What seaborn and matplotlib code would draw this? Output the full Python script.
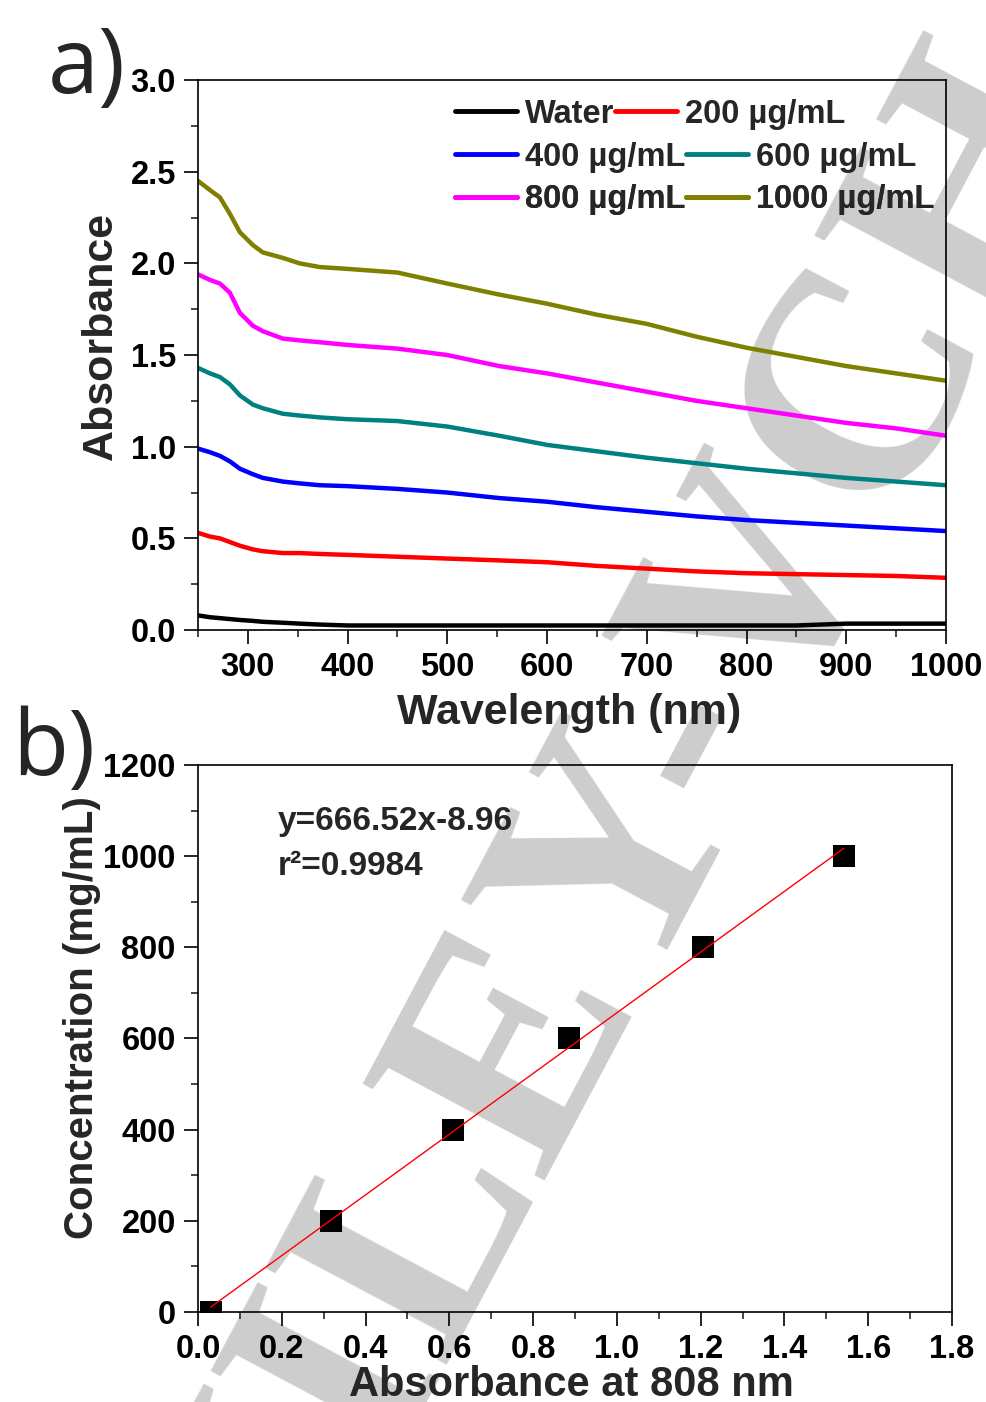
import numpy as np
import pandas as pd
import matplotlib
matplotlib.use("Agg")
import matplotlib.pyplot as plt
import seaborn as sns

# --- panel a: UV-vis-NIR spectra ---
wavelength = [250, 262, 272, 282, 292, 305, 315, 335, 352, 372, 400, 450,
              500, 552, 600, 650, 700, 750, 800, 850, 900, 950, 1000]
abs_water = [0.08, 0.07, 0.065, 0.06, 0.055, 0.05, 0.045, 0.04, 0.035, 0.03, 0.025, 0.025,
             0.025, 0.025, 0.025, 0.025, 0.025, 0.025, 0.025, 0.025, 0.035, 0.035, 0.035]
abs_200 = [0.53, 0.51, 0.50, 0.48, 0.46, 0.44, 0.43, 0.42, 0.42, 0.415, 0.41, 0.40,
           0.39, 0.38, 0.37, 0.35, 0.335, 0.32, 0.31, 0.305, 0.30, 0.295, 0.285]
abs_400 = [0.99, 0.97, 0.95, 0.92, 0.88, 0.85, 0.83, 0.81, 0.80, 0.79, 0.785, 0.77,
           0.75, 0.72, 0.70, 0.67, 0.645, 0.62, 0.60, 0.585, 0.57, 0.555, 0.54]
abs_600 = [1.43, 1.40, 1.38, 1.34, 1.28, 1.23, 1.21, 1.18, 1.17, 1.16, 1.15, 1.14,
           1.11, 1.06, 1.01, 0.975, 0.94, 0.91, 0.88, 0.855, 0.83, 0.81, 0.79]
abs_800 = [1.94, 1.91, 1.89, 1.84, 1.73, 1.66, 1.63, 1.59, 1.58, 1.57, 1.555, 1.535,
           1.50, 1.44, 1.40, 1.35, 1.30, 1.25, 1.21, 1.17, 1.13, 1.10, 1.06]
abs_1000 = [2.45, 2.40, 2.36, 2.27, 2.17, 2.10, 2.06, 2.03, 2.00, 1.98, 1.97, 1.95,
            1.89, 1.83, 1.78, 1.72, 1.67, 1.60, 1.54, 1.49, 1.44, 1.40, 1.36]
series_names = ["Water", "200 \u00b5g/mL", "400 \u00b5g/mL",
                "600 \u00b5g/mL", "800 \u00b5g/mL", "1000 \u00b5g/mL"]
series_colors = ["#000000", "#ff0000", "#0000ff", "#008080", "#ff00ff", "#808000"]

# --- panel b: calibration points ---
abs_808 = [0.03, 0.318, 0.609, 0.886, 1.206, 1.542]
concentration = [0, 200, 400, 600, 800, 1000]
fit_text = "y=666.52x-8.96"
r2_text = "r\u00b2=0.9984"

sns.set_theme(style="ticks")
plt.rcParams["font.family"] = ["Liberation Sans", "DejaVu Sans"]
plt.rcParams["xtick.direction"] = "out"
plt.rcParams["ytick.direction"] = "out"
plt.rcParams["axes.linewidth"] = 1.2

fig = plt.figure(figsize=(9.86, 14.02), dpi=100)
fig.patch.set_facecolor("white")

# watermark behind everything
fig.text(0.615, 0.36, "WILEY-VCH", rotation=62, rotation_mode="anchor",
         ha="center", va="center", fontsize=225, color="#cdcdcd",
         family=["Liberation Serif", "DejaVu Serif"], weight="bold", zorder=-1)

ax_a = fig.add_axes([0.2008, 0.5506, 0.7586, 0.3923])
ax_b = fig.add_axes([0.2008, 0.0642, 0.7647, 0.3902])
for ax in (ax_a, ax_b):
    ax.patch.set_facecolor("none")

# ---------- panel a ----------
spectra = [abs_water, abs_200, abs_400, abs_600, abs_800, abs_1000]
df_a = pd.DataFrame({
    "wavelength": np.tile(wavelength, len(series_names)),
    "absorbance": np.concatenate(spectra),
    "sample": np.repeat(series_names, len(wavelength)),
})
sns.lineplot(data=df_a, x="wavelength", y="absorbance", hue="sample",
             hue_order=series_names, palette=dict(zip(series_names, series_colors)),
             linewidth=3.2, legend=False, ax=ax_a)

ax_a.set_xlim(250, 1000)
ax_a.set_ylim(0, 3.0)
ax_a.set_xticks(range(300, 1001, 100))
ax_a.set_xticks(range(250, 1001, 50), minor=True)
ax_a.set_yticks(np.arange(0, 3.01, 0.5))
ax_a.set_yticks(np.arange(0, 3.01, 0.25), minor=True)
ax_a.set_yticklabels([f"{v:.1f}" for v in np.arange(0, 3.01, 0.5)])
ax_a.set_xlabel("Wavelength (nm)", fontsize=31, fontweight="bold", va="center")
ax_a.set_ylabel("Absorbance", fontsize=31, fontweight="bold", va="center")
ax_a.xaxis.set_label_coords(0.496, -0.151)
ax_a.yaxis.set_label_coords(-0.13, 0.535)

# legend rows laid out like the original (flowing, not column-aligned)
lines = ax_a.get_lines()
row_y = [0.938, 0.860, 0.782]
for i, y in enumerate(row_y):
    leg = ax_a.legend(lines[2 * i:2 * i + 2], series_names[2 * i:2 * i + 2],
                      ncol=2, loc="center left", bbox_to_anchor=(0.3436, y),
                      frameon=False, borderpad=0, borderaxespad=0,
                      handlelength=1.9, handletextpad=0.25, columnspacing=0.0,
                      prop={"size": 23.5, "weight": "bold"})
    for h in leg.get_lines():
        h.set_linewidth(3.5)
    ax_a.add_artist(leg)

# ---------- panel b ----------
df_b = pd.DataFrame({"abs": abs_808, "conc": concentration})
sns.scatterplot(data=df_b, x="abs", y="conc", marker="s", s=270, color="black",
                edgecolor="black", linewidth=0, ax=ax_b, zorder=2)
sns.regplot(data=df_b, x="abs", y="conc", scatter=False, ci=None, truncate=True,
            line_kws={"color": "red", "linewidth": 1.0, "zorder": 3}, ax=ax_b)

ax_b.set_xlim(0, 1.8)
ax_b.set_ylim(0, 1200)
ax_b.set_xticks(np.arange(0, 1.81, 0.2))
ax_b.set_xticklabels([f"{v:.1f}" for v in np.arange(0, 1.81, 0.2)])
ax_b.set_xticks(np.arange(0, 1.81, 0.1), minor=True)
ax_b.set_yticks(range(0, 1201, 200))
ax_b.set_yticks(range(0, 1201, 100), minor=True)
ax_b.set_xlabel("Absorbance at 808 nm", fontsize=30, fontweight="bold", va="center")
ax_b.set_ylabel("Concentration (mg/mL)", fontsize=29, fontweight="bold", va="center")
ax_b.xaxis.set_label_coords(0.495, -0.133)
ax_b.yaxis.set_label_coords(-0.154, 0.539)
ax_b.text(0.106, 0.881, fit_text, transform=ax_b.transAxes, fontsize=24,
          fontweight="bold", va="baseline", ha="left")
ax_b.text(0.106, 0.799, r2_text, transform=ax_b.transAxes, fontsize=24,
          fontweight="bold", va="baseline", ha="left")

for ax in (ax_a, ax_b):
    for side in ("top", "right", "left", "bottom"):
        ax.spines[side].set_visible(True)
        ax.spines[side].set_color("black")
        ax.spines[side].set_linewidth(1.2)
    ax.tick_params(which="major", length=10, width=1.2, pad=6, labelsize=23.5,
                   colors="black", top=False, right=False)
    ax.tick_params(which="minor", length=5, width=1.2, top=False, right=False)
    for lab in ax.get_xticklabels() + ax.get_yticklabels():
        lab.set_fontweight("bold")

# panel letters
fig.text(0.0487, 0.934, "a)", fontsize=66, family=["Open Sans", "DejaVu Sans"],
         va="baseline", ha="left")
fig.text(0.012, 0.447, "b)", fontsize=66, family=["Open Sans", "DejaVu Sans"],
         va="baseline", ha="left")

fig.savefig("out.png", dpi=100, facecolor="white")
